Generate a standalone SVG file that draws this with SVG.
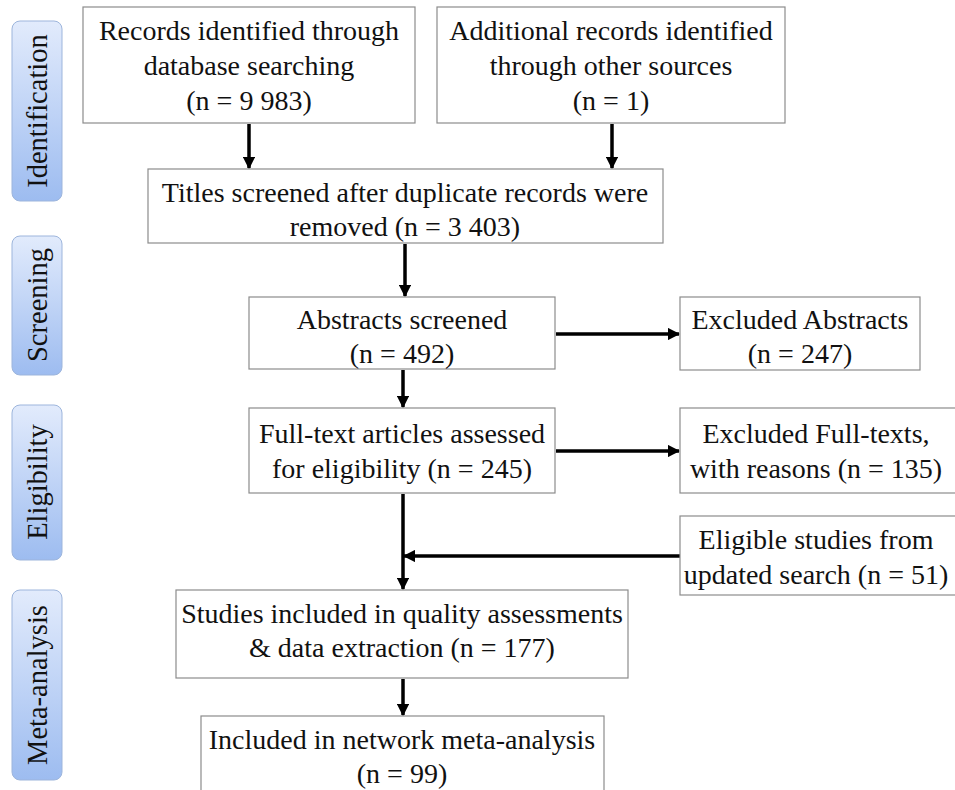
<svg xmlns="http://www.w3.org/2000/svg" width="955" height="790" viewBox="0 0 955 790">
<defs>
<linearGradient id="g" x1="0" y1="0" x2="0" y2="1">
<stop offset="0" stop-color="#e2ebfc"/>
<stop offset="1" stop-color="#9dbcf0"/>
</linearGradient>
<marker id="ah" viewBox="0 0 10 10" refX="9" refY="5" markerWidth="3.5" markerHeight="3.5" orient="auto" markerUnits="strokeWidth">
<path d="M0,0 L10,5 L0,10 Z" fill="#000"/>
</marker>
<style>
.box{fill:#fff;stroke:#8c8c8c;stroke-width:1.2}
.t{font-family:"Liberation Serif","Times New Roman",serif;font-size:28px;fill:#111;text-anchor:middle}
.side{fill:url(#g);stroke:#9db5dc;stroke-width:1}
.st{font-family:"Liberation Serif","Times New Roman",serif;font-size:28.5px;fill:#111;text-anchor:middle}
.c{stroke:#000;stroke-width:3.5;fill:none}
.ca{stroke:#000;stroke-width:3.5;fill:none;marker-end:url(#ah)}
</style>
</defs>
<rect width="955" height="790" fill="#fff"/>

<g id="phase-identification">
<rect class="side" x="12" y="21" width="50" height="180" rx="8"/>
<text class="st" transform="translate(47,111) rotate(-90)">Identification</text>
</g>
<g id="phase-screening">
<rect class="side" x="12" y="236" width="50" height="139" rx="8"/>
<text class="st" transform="translate(47,305) rotate(-90)">Screening</text>
</g>
<g id="phase-eligibility">
<rect class="side" x="12" y="405" width="50" height="155" rx="8"/>
<text class="st" transform="translate(47,482) rotate(-90)">Eligibility</text>
</g>
<g id="phase-meta">
<rect class="side" x="12" y="590" width="50" height="190" rx="8"/>
<text class="st" transform="translate(47,685) rotate(-90)">Meta-analysis</text>
</g>

<g id="connectors">
<line class="ca" x1="249" y1="124" x2="249" y2="168"/>
<line class="ca" x1="612" y1="124" x2="612" y2="168"/>
<line class="ca" x1="405" y1="244" x2="405" y2="296"/>
<line class="ca" x1="556" y1="334" x2="679" y2="334"/>
<line class="ca" x1="403" y1="370" x2="403" y2="407"/>
<line class="ca" x1="556" y1="451" x2="679" y2="451"/>
<line class="ca" x1="403" y1="494" x2="403" y2="589"/>
<line class="ca" x1="680" y1="556" x2="404" y2="556"/>
<line class="ca" x1="403" y1="679" x2="403" y2="715"/>
</g>

<g id="n-records-db">
<rect class="box" x="83" y="7" width="332" height="116"/>
<text class="t" x="249" y="40">Records identified through</text>
<text class="t" x="249" y="75">database searching</text>
<text class="t" x="249" y="110">(n = 9 983)</text>
</g>
<g id="n-records-other">
<rect class="box" x="437" y="7" width="348" height="116"/>
<text class="t" x="611" y="40">Additional records identified</text>
<text class="t" x="611" y="75">through other sources</text>
<text class="t" x="611" y="110">(n = 1)</text>
</g>
<g id="n-titles">
<rect class="box" x="148" y="169" width="515" height="74"/>
<text class="t" x="405" y="202">Titles screened after duplicate records were</text>
<text class="t" x="405" y="236">removed (n = 3 403)</text>
</g>
<g id="n-abstracts">
<rect class="box" x="249" y="297" width="306" height="72"/>
<text class="t" x="402" y="329">Abstracts screened</text>
<text class="t" x="402" y="363">(n = 492)</text>
</g>
<g id="n-excl-abstracts">
<rect class="box" x="680" y="297" width="240" height="73"/>
<text class="t" x="800" y="329">Excluded Abstracts</text>
<text class="t" x="800" y="363">(n = 247)</text>
</g>
<g id="n-fulltext">
<rect class="box" x="249" y="408" width="306" height="85"/>
<text class="t" x="402" y="443">Full-text articles assessed</text>
<text class="t" x="402" y="478">for eligibility (n = 245)</text>
</g>
<g id="n-excl-fulltext">
<rect class="box" x="680" y="408" width="280" height="85"/>
<text class="t" x="816" y="443">Excluded Full-texts,</text>
<text class="t" x="816" y="478">with reasons (n = 135)</text>
</g>
<g id="n-updated">
<rect class="box" x="680" y="516" width="280" height="79"/>
<text class="t" x="816" y="549">Eligible studies from</text>
<text class="t" x="816" y="584">updated search (n = 51)</text>
</g>
<g id="n-studies">
<rect class="box" x="176" y="590" width="452" height="88"/>
<text class="t" x="402" y="623">Studies included in quality assessments</text>
<text class="t" x="402" y="657">&amp; data extraction (n = 177)</text>
</g>
<g id="n-included">
<rect class="box" x="201" y="716" width="403" height="90"/>
<text class="t" x="402" y="749">Included in network meta-analysis</text>
<text class="t" x="402" y="783">(n = 99)</text>
</g>
</svg>
